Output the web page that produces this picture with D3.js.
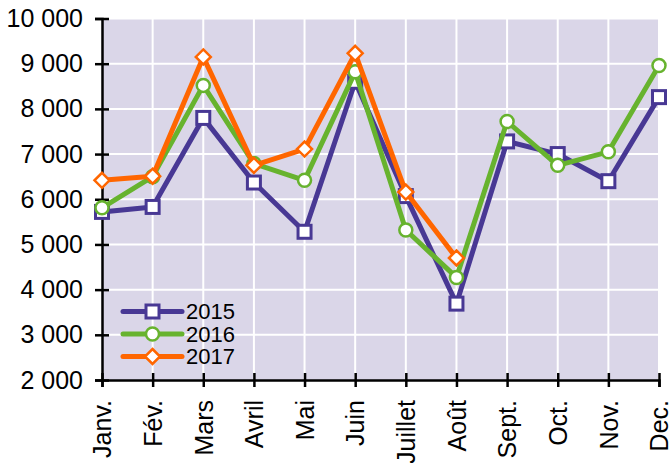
<!DOCTYPE html>
<html>
<head>
<meta charset="utf-8">
<script src="https://d3js.org/d3.v7.min.js"></script>
<style>
  body { margin: 0; background: #fff; }
  text { font-family: "Liberation Sans", Arial, sans-serif; fill: #000; }
</style>
</head>
<body>
<div id="vis"></div>
<script>
// months and values per year
const months = ["Janv.", "Fév.", "Mars", "Avril", "Mai", "Juin", "Juillet", "Août", "Sept.", "Oct.", "Nov.", "Dec."];
const v2015 = [5720, 5830, 7800, 6370, 5280, 8600, 6070, 3690, 7280, 7000, 6400, 8260];
const v2016 = [5810, 6500, 8520, 6790, 6420, 8820, 5320, 4270, 7720, 6750, 7050, 8960];
const v2017 = [6420, 6510, 9150, 6750, 7110, 9230, 6160, 4700];
const yTicks = [2000, 3000, 4000, 5000, 6000, 7000, 8000, 9000, 10000];

const W = 671, H = 463;
const pLeft = 102, pRight = 659, pTop = 18.5, pBottom = 380;

const series = [
  {name: "2015", vals: v2015, color: "#483894", shape: "square"},
  {name: "2016", vals: v2016, color: "#67b32e", shape: "circle"},
  {name: "2017", vals: v2017, color: "#ff6600", shape: "diamond"}
];

const svg = d3.select("#vis").append("svg")
  .attr("width", W).attr("height", H);

const x = d3.scalePoint().domain(months).range([pLeft, pRight]);
const y = d3.scaleLinear().domain([2000, 10000]).range([pBottom, pTop]);

// background
svg.append("rect")
  .attr("x", pLeft).attr("y", pTop)
  .attr("width", pRight - pLeft).attr("height", pBottom - pTop)
  .attr("fill", "#dad6e8");

// grid
svg.append("g").selectAll("line")
  .data(months.slice(1))
  .join("line")
  .attr("x1", d => x(d)).attr("x2", d => x(d))
  .attr("y1", pTop).attr("y2", pBottom)
  .attr("stroke", "#fff").attr("stroke-width", 2);
svg.append("g").selectAll("line")
  .data(yTicks.slice(1))
  .join("line")
  .attr("x1", pLeft).attr("x2", pRight)
  .attr("y1", d => y(d)).attr("y2", d => y(d))
  .attr("stroke", "#fff").attr("stroke-width", 2);

// axes
const yAxis = svg.append("g")
  .attr("transform", `translate(${pLeft},0)`)
  .call(d3.axisLeft(y).tickValues(yTicks).tickSize(7)
    .tickFormat(d => d3.format(",")(d).replace(",", " ")));
yAxis.select(".domain").attr("stroke", "#000").attr("stroke-width", 2.5);
yAxis.selectAll(".tick line").attr("stroke", "#000").attr("stroke-width", 2.5)
  .attr("x2", 7).attr("x1", -7);
yAxis.selectAll(".tick text").attr("x", -19).attr("font-size", 25)
  .attr("font-family", "Liberation Sans, Arial, sans-serif");

const xAxis = svg.append("g")
  .attr("transform", `translate(0,${pBottom})`)
  .call(d3.axisBottom(x).tickSize(7));
xAxis.select(".domain").attr("stroke", "#000").attr("stroke-width", 2.5);
xAxis.selectAll(".tick line").attr("stroke", "#000").attr("stroke-width", 2.5)
  .attr("y1", -7).attr("y2", 7);
xAxis.selectAll(".tick text")
  .attr("font-size", 25)
  .attr("font-family", "Liberation Sans, Arial, sans-serif")
  .attr("transform", "rotate(-90)")
  .attr("text-anchor", "end")
  .attr("x", -20).attr("y", 0).attr("dy", "0.35em");

// markers
function marker(g, shape, color) {
  if (shape === "square") {
    g.append("rect").attr("x", -6.5).attr("y", -6.5).attr("width", 13).attr("height", 13)
      .attr("fill", "#fff").attr("stroke", color).attr("stroke-width", 3);
  } else if (shape === "circle") {
    g.append("circle").attr("r", 6.5)
      .attr("fill", "#fff").attr("stroke", color).attr("stroke-width", 2.5);
  } else {
    g.append("path").attr("d", "M0,-7.5L7.5,0L0,7.5L-7.5,0Z")
      .attr("fill", "#fff").attr("stroke", color).attr("stroke-width", 2.5);
  }
}

const line = d3.line().x((d, i) => x(months[i])).y(d => y(d));

series.forEach(s => {
  svg.append("path")
    .datum(s.vals)
    .attr("d", line)
    .attr("fill", "none")
    .attr("stroke", s.color)
    .attr("stroke-width", 5)
    .attr("stroke-linejoin", "round");
  svg.append("g").selectAll("g")
    .data(s.vals)
    .join("g")
    .attr("transform", (d, i) => `translate(${x(months[i])},${y(d)})`)
    .each(function() { marker(d3.select(this), s.shape, s.color); });
});

// legend
const leg = svg.append("g").attr("transform", "translate(123,311.5)");
series.forEach((s, i) => {
  const g = leg.append("g").attr("transform", `translate(0,${i * 22.5})`);
  g.append("line").attr("x1", 0).attr("x2", 59).attr("y1", 0).attr("y2", 0)
    .attr("stroke", s.color).attr("stroke-width", 5).attr("stroke-linecap", "round");
  marker(g.append("g").attr("transform", "translate(29.5,0)"), s.shape, s.color);
  g.append("text").attr("x", 63).attr("y", 0).attr("dy", "0.35em")
    .attr("font-size", 22).text(s.name);
});
</script>
</body>
</html>
